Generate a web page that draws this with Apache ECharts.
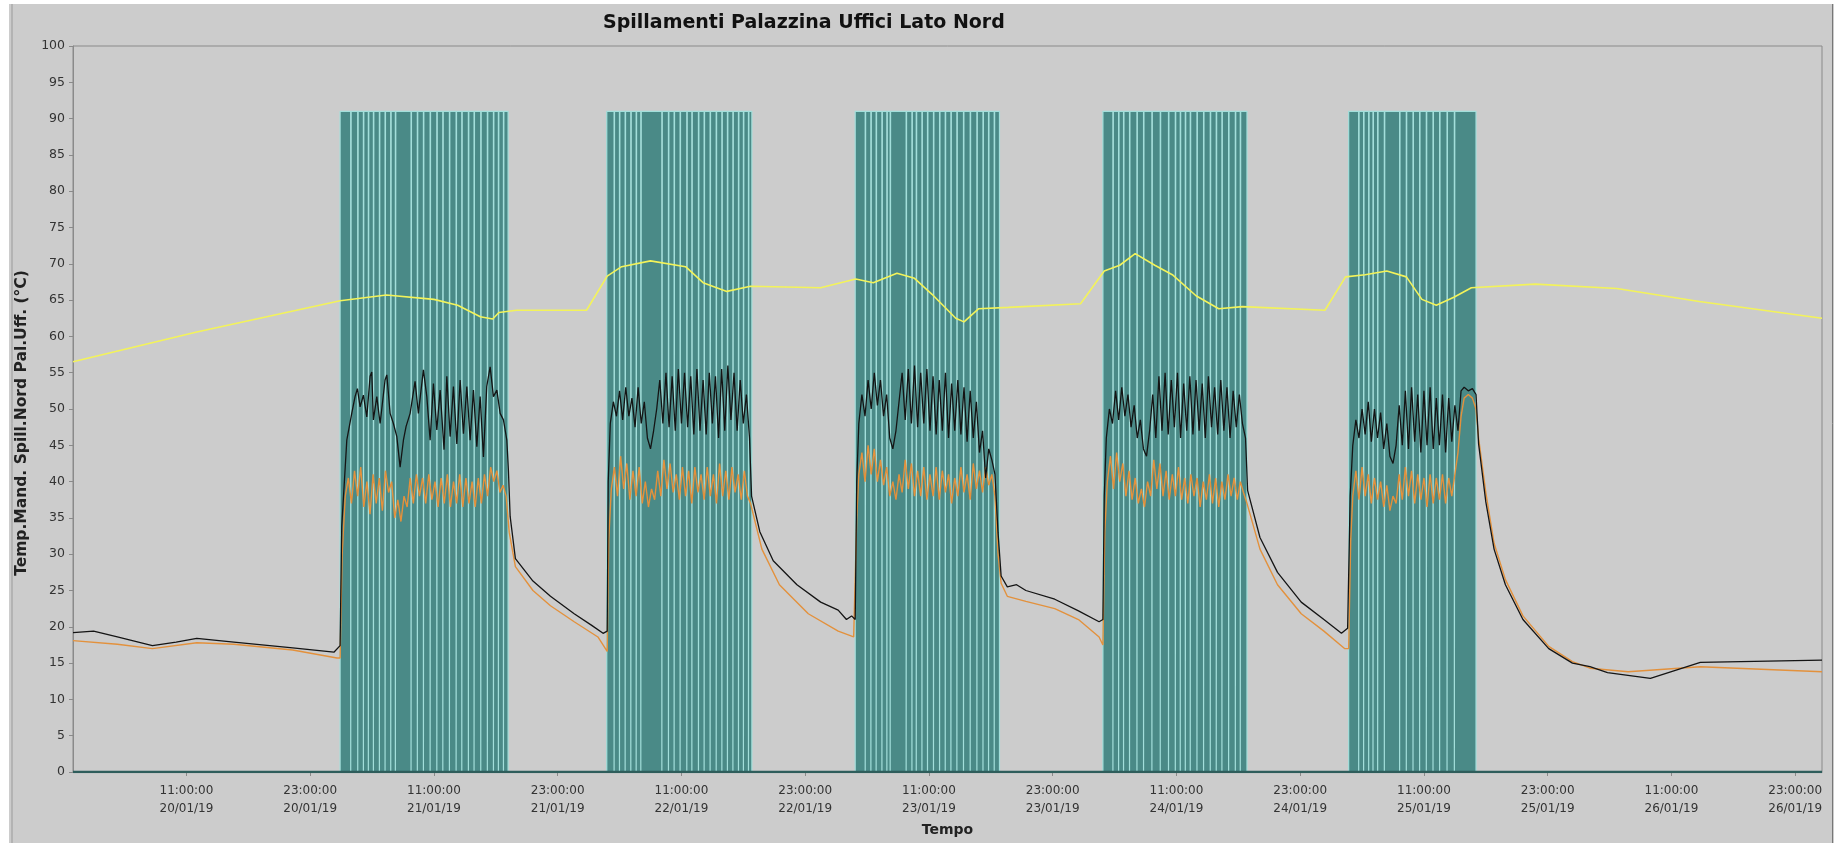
<!DOCTYPE html>
<html><head><meta charset="utf-8">
<script src="https://cdn.jsdelivr.net/npm/echarts@6/dist/echarts.min.js"></script>
<style>html,body{margin:0;padding:0;background:#fff;}#c{width:1836px;height:846px;}</style>
</head><body><div id="c"></div>
<script>
// x values are hours since 20/01/19 00:00
const tickHours = [11,23,35,47,59,71,83,95,107,119,131,143,155,167];
const tickLabels = ['11:00:00\n20/01/19','23:00:00\n20/01/19','11:00:00\n21/01/19','23:00:00\n21/01/19',
  '11:00:00\n22/01/19','23:00:00\n22/01/19','11:00:00\n23/01/19','23:00:00\n23/01/19',
  '11:00:00\n24/01/19','23:00:00\n24/01/19','11:00:00\n25/01/19','23:00:00\n25/01/19',
  '11:00:00\n26/01/19','23:00:00\n26/01/19'];
const xEnd = 169.6;
const valveOn = 91;
const valveBlocks = [[25.9,42.19],[51.76,65.83],[75.85,89.84],[99.87,113.84],[123.7,136.05]];
const valveGaps1 = [26.93,27.61,28.16,28.64,29.13,29.71,30.26,30.81,31.26,32.78,33.39,33.98,34.63,35.28,35.86,36.50,37.15,37.70,38.34,38.89,39.54,40.18,40.77,41.25,41.74];
const valveGaps2 = [52.47,52.99,53.54,54.09,54.61,55.06,57.10,57.74,58.29,58.87,59.52,60.01,60.65,61.20,61.78,62.37,62.92,63.46,63.99,64.53,65.01,65.50];
const valveGaps3 = [76.82,77.37,77.88,78.44,78.92,79.24,80.79,81.35,81.77,82.32,82.86,83.44,84.03,84.58,85.13,85.71,86.35,87.00,87.65,88.24,88.78,89.33];
const valveGaps4 = [100.84,101.39,101.87,102.45,103.17,103.81,104.62,105.43,106.23,106.89,107.37,107.86,108.34,108.99,109.63,110.28,110.86,111.41,112.06,112.71,113.19];
const valveGaps5 = [124.67,125.15,125.64,126.06,126.51,127.16,128.64,129.29,129.94,130.58,131.23,131.88,132.52,133.24,133.95];

const yellowTemp = [[0,56.5],[12,60.6],[25.9,64.9],[30.4,65.7],[35,65.1],[37.3,64.3],[39.5,62.7],[40.7,62.4],[41.3,63.3],[43,63.6],[49.8,63.6],[51.8,68.3],[53.2,69.6],[56,70.4],[59.4,69.6],[61.1,67.4],[63.4,66.2],[65.7,66.9],[72.5,66.7],[75.9,67.9],[77.6,67.4],[79.9,68.7],[81.6,68.0],[83.3,65.8],[85.6,62.5],[86.4,62.0],[87.8,63.8],[90.7,64.0],[97.7,64.5],[100,69.0],[101.5,69.8],[103,71.4],[104.9,69.8],[106.6,68.5],[108.9,65.6],[111.1,63.8],[113.4,64.1],[121.4,63.6],[123.4,68.2],[125.3,68.5],[127.4,69.0],[129.3,68.2],[130.8,65.1],[132.2,64.3],[133.9,65.4],[135.6,66.7],[141.8,67.2],[149.7,66.6],[157.7,64.8],[169.6,62.5]];

const blackTemp = [[0,19.2],[2,19.4],[4.3,18.6],[7.7,17.4],[10,17.9],[12,18.4],[15.6,17.9],[21.3,17.1],[25.3,16.5],[25.9,17.4],
[26.06,33.8],[26.55,45.7],[27.03,49.4],[27.35,51.7],[27.58,52.8],[27.84,50.3],[28.16,51.9],[28.49,48.9],[28.81,54.5],[28.97,55.1],[29.13,48.5],[29.46,51.7],[29.78,48.0],[30.26,54.0],[30.43,54.7],[30.75,49.4],[31.07,48.0],[31.40,46.2],[31.72,42.0],[32.04,45.7],[32.30,47.6],[32.69,49.4],[33.17,53.8],[33.49,49.4],[33.98,55.4],[34.31,51.7],[34.63,45.7],[34.95,53.5],[35.28,47.1],[35.60,52.6],[35.98,44.4],[36.25,54.5],[36.57,46.2],[36.89,53.1],[37.22,45.2],[37.54,54.0],[37.86,46.6],[38.19,53.1],[38.51,45.7],[38.83,52.6],[39.16,44.8],[39.48,51.7],[39.80,43.4],[40.12,53.1],[40.45,55.8],[40.77,51.7],[41.10,52.6],[41.42,49.4],[41.74,48.5],[42.07,45.7],[42.22,41.6],[42.39,35.2],
[42.9,29.4],[44.6,26.3],[46.3,24.2],[48.6,21.8],[50.3,20.2],[51.4,19.1],[51.8,19.4],
[51.9,40],[52.1,48],[52.4,51],[52.7,49],[53.0,52.5],[53.3,48.5],[53.6,53],[53.9,49],[54.2,51.5],[54.5,47.5],[54.8,53],[55.1,48],[55.4,51],[55.7,46],[56.0,44.5],[56.3,47],[56.6,50],[56.9,54],[57.2,48],[57.5,55],[57.8,47.5],[58.1,54.5],[58.4,47],[58.7,55.5],[59.0,48],[59.3,55],[59.6,47.5],[59.9,54.5],[60.2,46.5],[60.5,55.5],[60.8,47],[61.1,54],[61.4,46.5],[61.7,55],[62.0,48],[62.3,54.5],[62.6,46],[62.9,55.5],[63.2,47],[63.5,56],[63.8,48.5],[64.1,55],[64.4,47],[64.7,54],[65.0,48],[65.3,52],[65.6,46],[65.8,38],
[66.6,33.1],[67.9,29.1],[70.2,25.8],[72.5,23.4],[74.2,22.3],[75.0,21.0],[75.5,21.5],[75.85,21],
[76.0,40],[76.2,48],[76.5,52],[76.8,49],[77.1,54],[77.4,50],[77.7,55],[78.0,50.5],[78.3,54],[78.6,49],[78.9,52],[79.2,46],[79.5,44.5],[79.8,47],[80.1,51],[80.4,55],[80.7,48.5],[81.0,55.5],[81.3,48],[81.6,56],[81.9,47.5],[82.2,55],[82.5,48],[82.8,55.5],[83.1,47],[83.4,54.5],[83.7,46.5],[84.0,54],[84.3,47],[84.6,55],[84.9,46],[85.2,53.5],[85.5,47],[85.8,54],[86.1,46.5],[86.4,53],[86.7,45.5],[87.0,52.5],[87.3,46],[87.6,51],[87.9,44],[88.2,47],[88.5,40.5],[88.8,44.5],[89.1,43],[89.4,41],[89.7,33],[90.0,27],
[90.6,25.5],[91.5,25.8],[92.4,25],[95.2,23.8],[97.5,22.2],[99.5,20.7],[99.87,21],
[100.0,38],[100.2,46],[100.5,50],[100.8,48],[101.1,52.5],[101.4,48.5],[101.7,53],[102.0,49],[102.3,52],[102.6,47.5],[102.9,50.5],[103.2,46],[103.5,48.5],[103.8,44.5],[104.1,43.5],[104.4,47],[104.7,52],[105.0,46],[105.3,54.5],[105.6,47],[105.9,55],[106.2,46.5],[106.5,54],[106.8,47.5],[107.1,55],[107.4,46],[107.7,53.5],[108.0,47],[108.3,54.5],[108.6,46.5],[108.9,54],[109.2,47],[109.5,53.5],[109.8,46],[110.1,54.5],[110.4,47.5],[110.7,53],[111.0,46.5],[111.3,54],[111.6,47],[111.9,53],[112.2,46],[112.5,52.5],[112.8,47.5],[113.1,52],[113.4,48],[113.7,46],[113.9,38.8],
[115.1,32.3],[116.8,27.5],[119.1,23.4],[121.3,21.0],[123.0,19.1],[123.6,19.8],
[123.85,38],[124.1,45],[124.4,48.5],[124.7,46],[125.0,50],[125.3,46.5],[125.6,51],[125.9,45.5],[126.2,50],[126.5,46],[126.8,49.5],[127.1,44.5],[127.4,48],[127.7,43.5],[128.0,42.5],[128.3,45],[128.6,50.5],[128.9,45],[129.2,52.5],[129.5,44.5],[129.8,53],[130.1,45.5],[130.4,52],[130.7,44],[131.0,52.5],[131.3,45],[131.6,53],[131.9,44.5],[132.2,51.5],[132.5,45],[132.8,52],[133.1,44],[133.4,51.5],[133.7,45.5],[134.0,50.5],[134.3,47],[134.6,52.5],[134.9,53],[135.3,52.5],[135.7,52.8],[136.05,52],
[136.3,45.2],[137.0,37.2],[137.8,30.7],[138.9,25.8],[140.6,21],[143.1,17],[145.4,15],[147.1,14.5],[148.8,13.7],[152.96,12.9],[157.8,15.1],[169.6,15.4]];

const orangeTemp = [[0,18.1],[4.3,17.6],[7.7,17.0],[12,17.8],[15.6,17.6],[21.3,16.8],[25.6,15.7],[25.9,15.7],
[26.1,30],[26.4,38],[26.7,40.5],[27.0,37],[27.3,41.5],[27.6,38],[27.9,42],[28.2,36.5],[28.5,40],[28.8,35.5],[29.1,41],[29.4,37],[29.7,40.5],[30.0,36],[30.3,41.5],[30.6,38.5],[30.9,40],[31.2,35],[31.5,37.5],[31.8,34.5],[32.1,38],[32.4,36.5],[32.7,40.5],[33.0,37],[33.3,41],[33.6,38],[33.9,40.5],[34.2,37],[34.5,41],[34.8,37.5],[35.1,40],[35.4,36.5],[35.7,40.5],[36.0,37],[36.3,41],[36.6,36.5],[36.9,40],[37.2,37],[37.5,41],[37.8,36.5],[38.1,40.5],[38.4,37],[38.7,40],[39.0,36.5],[39.3,40.5],[39.6,37],[39.9,41],[40.2,38],[40.5,42],[40.8,40],[41.1,41.5],[41.4,38.5],[41.7,39.5],[42.0,38],[42.3,33],
[42.9,28.3],[44.6,25],[46.3,22.9],[48.6,20.7],[50.9,18.6],[51.8,16.6],
[51.95,32],[52.2,39],[52.5,42],[52.8,38],[53.1,43.5],[53.4,39],[53.7,42.5],[54.0,37.5],[54.3,41.5],[54.6,38],[54.9,42],[55.2,37],[55.5,40],[55.8,36.5],[56.1,39],[56.4,37.5],[56.7,41.5],[57.0,38],[57.3,43],[57.6,39],[57.9,42.5],[58.2,38.5],[58.5,41],[58.8,37.5],[59.1,42],[59.4,38],[59.7,41.5],[60.0,37],[60.3,42],[60.6,38.5],[60.9,41],[61.2,37.5],[61.5,42],[61.8,38],[62.1,41],[62.4,37],[62.7,42.5],[63.0,38],[63.3,41.5],[63.6,37.5],[63.9,42],[64.2,38.5],[64.5,41],[64.8,37.5],[65.1,41.5],[65.4,38],[65.7,37],
[66.8,30.7],[68.5,25.8],[71.3,21.8],[74.2,19.4],[75.7,18.6],
[76.0,35],[76.2,41],[76.5,44],[76.8,40],[77.1,45],[77.4,41],[77.7,44.5],[78.0,40],[78.3,43],[78.6,39.5],[78.9,42],[79.2,38],[79.5,40],[79.8,37.5],[80.1,41],[80.4,38.5],[80.7,43],[81.0,39],[81.3,42.5],[81.6,38],[81.9,41.5],[82.2,38],[82.5,42],[82.8,37.5],[83.1,41],[83.4,38],[83.7,42],[84.0,37.5],[84.3,41.5],[84.6,38.5],[84.9,41],[85.2,37],[85.5,40.5],[85.8,38],[86.1,42],[86.4,38.5],[86.7,41],[87.0,37.5],[87.3,42.5],[87.6,39],[87.9,41.5],[88.2,38.5],[88.5,42],[88.8,39.5],[89.1,41],[89.4,38],[89.7,30],[90.0,26],
[90.6,24.2],[92.4,23.5],[95.2,22.5],[97.5,21],[99.5,18.6],[99.87,17.5],
[100.05,33],[100.3,40],[100.6,43.5],[100.9,39],[101.2,44],[101.5,40],[101.8,42.5],[102.1,38],[102.4,41.5],[102.7,37.5],[103.0,40.5],[103.3,37],[103.6,39],[103.9,36.5],[104.2,40],[104.5,38],[104.8,43],[105.1,39],[105.4,42.5],[105.7,38],[106.0,41.5],[106.3,37.5],[106.6,41],[106.9,38],[107.2,42],[107.5,37.5],[107.8,40.5],[108.1,37],[108.4,41],[108.7,38],[109.0,40.5],[109.3,36.5],[109.6,40],[109.9,37.5],[110.2,41],[110.5,37],[110.8,40.5],[111.1,36.5],[111.4,40],[111.7,37.5],[112.0,41],[112.3,38],[112.6,40.5],[112.9,37.5],[113.2,40],[113.5,38.5],[113.8,37.2],
[115.1,30.7],[116.8,25.8],[119.1,21.8],[121.3,19.4],[123.3,17.0],[123.7,17],
[123.9,32],[124.1,38],[124.4,41.5],[124.7,37.5],[125.0,42],[125.3,38],[125.6,41],[125.9,37],[126.2,40.5],[126.5,37.5],[126.8,40],[127.1,36.5],[127.4,39.5],[127.7,36],[128.0,38],[128.3,37],[128.6,41],[128.9,37.5],[129.2,42],[129.5,38],[129.8,41.5],[130.1,37],[130.4,41],[130.7,37.5],[131.0,40.5],[131.3,36.5],[131.6,41],[131.9,37],[132.2,40.5],[132.5,37.5],[132.8,41],[133.1,37],[133.4,40.5],[133.7,38],[134.0,41],[134.3,44],[134.6,49],[134.9,51.5],[135.3,52],[135.7,51.5],[136.05,50],
[136.3,46],[137.0,38.5],[137.8,31.5],[138.9,26.5],[140.6,21.5],[143.1,17.3],[145.4,15.2],[147.1,14.3],[150.8,13.8],[157.8,14.5],[169.6,13.8]];

const valveGaps = [valveGaps1,valveGaps2,valveGaps3,valveGaps4,valveGaps5];
const gapW = 0.04;
const valveData = [[0,0]];
valveBlocks.forEach((b,i)=>{
  valveData.push([b[0],0],[b[0],valveOn]);
  valveGaps[i].forEach(g=>{ valveData.push([g,valveOn],[g,0],[g+gapW,0],[g+gapW,valveOn]); });
  valveData.push([b[1],valveOn],[b[1],0]);
});
valveData.push([xEnd,0]);

const font = 'DejaVu Sans';
const chart = echarts.init(document.getElementById('c'), null, {renderer:'canvas'});
chart.setOption({
  animation:false,
  backgroundColor:'#cccccc',
  title:{text:'Spillamenti Palazzina Uffici Lato Nord', left:598, top:9,
    textStyle:{fontFamily:font, fontWeight:'bold', fontSize:19, color:'#111'}},
  grid:{left:73, right:14, top:46, bottom:74, show:true, borderColor:'#8a8a8a', borderWidth:1, backgroundColor:'transparent'},
  xAxis:{type:'value', min:0, max:xEnd,
    name:'Tempo', nameLocation:'middle', nameGap:50,
    nameTextStyle:{fontFamily:font, fontSize:14, fontWeight:'bold', color:'#222'},
    axisLine:{show:true, onZero:false, lineStyle:{color:'#8a8a8a'}},
    axisTick:{show:true, customValues:tickHours, length:4, lineStyle:{color:'#8a8a8a'}},
    axisLabel:{customValues:tickHours, margin:10, fontFamily:font, fontSize:12, lineHeight:18, color:'#333',
      formatter:v=>{const i=tickHours.indexOf(Math.round(v)); return i>=0?tickLabels[i]:'';}},
    splitLine:{show:false}},
  yAxis:{type:'value', min:0, max:100, interval:5,
    name:'Temp.Mand. Spill.Nord Pal.Uff. (°C)', nameLocation:'middle', nameGap:38,
    nameTextStyle:{fontFamily:font, fontSize:15.5, fontWeight:'bold', color:'#222', padding:[0,28,0,0]},
    axisLine:{show:true, lineStyle:{color:'#8a8a8a'}},
    axisTick:{show:true, length:4, lineStyle:{color:'#8a8a8a'}},
    axisLabel:{fontFamily:font, fontSize:12.5, color:'#333', margin:8},
    splitLine:{show:false}},
  graphic:[
    {type:'rect', shape:{x:0,y:0,width:1836,height:4}, style:{fill:'#fff'}, silent:true},
    {type:'rect', shape:{x:0,y:0,width:9,height:846}, style:{fill:'#fff'}, silent:true},
    {type:'rect', shape:{x:0,y:843,width:1836,height:3}, style:{fill:'#fff'}, silent:true},
    {type:'rect', shape:{x:1834,y:0,width:2,height:846}, style:{fill:'#fff'}, silent:true},
    {type:'line', shape:{x1:12,y1:4,x2:12,y2:843}, style:{stroke:'#9a9a9a', lineWidth:1}, silent:true},
    {type:'line', shape:{x1:1832.5,y1:4,x2:1832.5,y2:843}, style:{stroke:'#777', lineWidth:1}, silent:true}
  ],
  series:[
    {name:'Spillamento', type:'line', data:valveData, showSymbol:false, z:1,
      lineStyle:{color:'#a3dfdb', width:1.2}, areaStyle:{color:'#4a8a87', opacity:1}},
    {name:'Stato', type:'line', data:[[0,0],[xEnd,0]], showSymbol:false, z:2,
      lineStyle:{color:'#2e5d5b', width:2.5}},
    {name:'Temp. Rit.', type:'line', data:orangeTemp, showSymbol:false, z:3,
      lineStyle:{color:'#e3913c', width:1.4}},
    {name:'Temp. Mand.', type:'line', data:blackTemp, showSymbol:false, z:4,
      lineStyle:{color:'#141414', width:1.3}},
    {name:'Temp. Caldaia', type:'line', data:yellowTemp, showSymbol:false, z:5,
      lineStyle:{color:'#f3f35a', width:1.6}}
  ]
});
</script></body></html>
